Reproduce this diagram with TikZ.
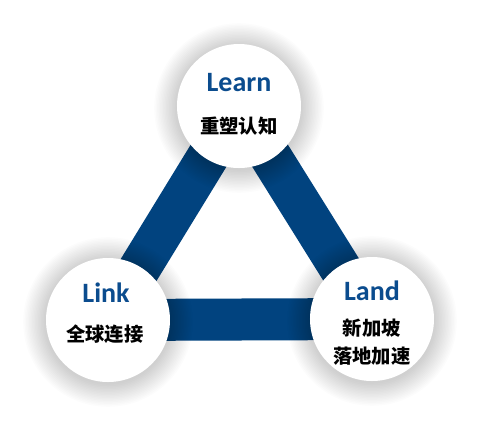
\documentclass[tikz,border=0pt]{standalone}
\usepackage{fontspec}
\setmainfont{Carlito}
\newfontfamily\cjk{Noto Sans CJK SC}
\usepackage{xcolor}
\definecolor{barblue}{HTML}{01437F}
\definecolor{titleblue}{HTML}{0B4C8E}

\begin{document}
\begin{tikzpicture}[x=0.75pt, y=-0.75pt]
\useasboundingbox (0,0) rectangle (480,430);
\tikzset{
  hub/.style={circle, fill=white, minimum size=93pt, inner sep=0pt},
  title/.style={font=\bfseries\fontsize{21}{24}\selectfont, text=titleblue},
  sub/.style={font=\cjk\bfseries\fontsize{14.5}{21}\selectfont, align=center}
}
%--- Hub positions ---
\coordinate (T) at (239,106);
\coordinate (L) at (108,320);
\coordinate (R) at (372,319);

% Thick triangle band
\draw[barblue, line width=31.5pt, line join=miter] (T) -- (L) -- (R) -- cycle;

% Soft shadows round the hubs
\foreach \p in {T,L,R} {
  \foreach \i in {1,...,16} {
    \fill[black, opacity=0.013] ([yshift=-1.5pt]\p) circle[radius={46pt+\i*1.1pt}];
  }
}

% Hubs
\node[hub] (learn) at (T) {};
\node[hub] (link) at (L) {};
\node[hub] (land) at (R) {};

% Labels
\node[title] (learnT) at (239,83) {Learn};
\node[sub] (learnS) at (239,126) {重塑认知};
\node[title] (linkT) at (106,293) {Link};
\node[sub] (linkS) at (105,334) {全球连接};
\node[title] (landT) at (372,291) {Land};
\node[sub] (landS) at (372,342) {新加坡\\落地加速};
\end{tikzpicture}
\end{document}
